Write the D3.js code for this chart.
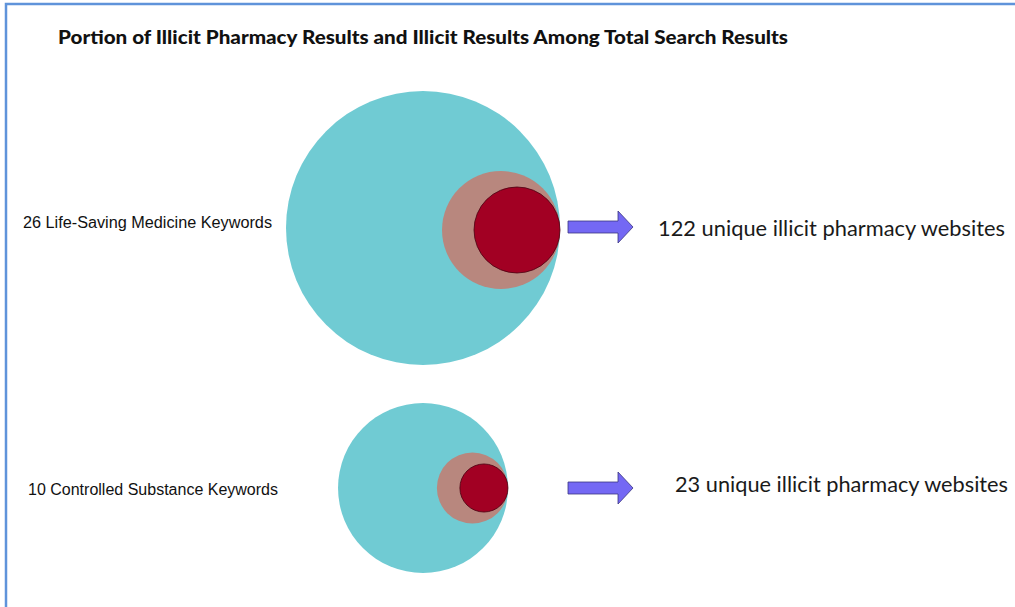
<!DOCTYPE html>
<html>
<head>
<meta charset="utf-8">
<script src="https://cdn.jsdelivr.net/npm/d3@7"></script>
<style>
  html, body { margin: 0; padding: 0; background: #ffffff; }
  svg { display: block; }
</style>
</head>
<body>
<script>
// ---- data ----
const categories = ["26 Life-Saving Medicine Keywords", "10 Controlled Substance Keywords"];
const totalResults = [2600, 1000];
const illicitResults = [482, 175];
const illicitPharmacyResults = [256, 80];
const websiteCounts = [122, 23];
const websiteLabels = websiteCounts.map(d => `${d} unique illicit pharmacy websites`);
const title = "Portion of Illicit Pharmacy Results and Illicit Results Among Total Search Results";

// ---- layout ----
const W = 1015, H = 607;
const centerX = 423;
const labelX = [23, 28];
const labelDy = [0, 7];
const labelLen = [249, 250];
const textX = [658, 675];
const textDy = [8, 4];
const textLen = [347, 333];
const colors = { total: "#70cbd3", illicit: "#b8877e", pharmacy: "#a20023", arrow: "#7468f4" };

const svg = d3.select("body").append("svg").attr("width", W).attr("height", H);

// frame lines (top and left)
svg.append("path")
  .attr("d", `M6,${H} L6,4 L${W},4`)
  .attr("fill", "none").attr("stroke", "#5f93da").attr("stroke-width", 2.5);

// title
svg.append("text")
  .attr("x", 58).attr("y", 44)
  .attr("font-family", "Lato, 'Noto Sans', sans-serif")
  .attr("font-weight", 900)
  .attr("font-size", 18)
  .attr("textLength", 730).attr("lengthAdjust", "spacingAndGlyphs")
  .attr("fill", "#111")
  .text(title);

const r = d3.scaleSqrt().domain([0, d3.max(totalResults)]).range([0, 137]);
const y = d3.scalePoint().domain(categories).range([228, 488]);

const rows = categories.map((c, i) => ({
  cat: c, i,
  total: totalResults[i], illicit: illicitResults[i], pharmacy: illicitPharmacyResults[i],
  label: websiteLabels[i]
}));

const g = svg.selectAll("g.row").data(rows).join("g").attr("class", "row");

// total circle
g.append("circle")
  .attr("cx", centerX)
  .attr("cy", d => y(d.cat))
  .attr("r", d => r(d.total))
  .attr("fill", colors.total);

// illicit circle (tangent to right edge of total)
g.append("circle")
  .attr("cx", d => centerX + r(d.total) - r(d.illicit))
  .attr("cy", d => y(d.cat) + (d.i === 0 ? 2 : 0))
  .attr("r", d => r(d.illicit))
  .attr("fill", colors.illicit);

// illicit pharmacy circle
g.append("circle")
  .attr("cx", d => centerX + r(d.total) - r(d.pharmacy))
  .attr("cy", d => y(d.cat) + (d.i === 0 ? 2 : 0))
  .attr("r", d => r(d.pharmacy))
  .attr("fill", colors.pharmacy)
  .attr("stroke", "#4a0010").attr("stroke-width", 0.8);

// left labels
g.append("text")
  .attr("x", d => labelX[d.i])
  .attr("y", d => y(d.cat) + labelDy[d.i])
  .attr("font-family", "'Liberation Sans', Arial, sans-serif")
  .attr("font-size", 16)
  .attr("textLength", d => labelLen[d.i]).attr("lengthAdjust", "spacingAndGlyphs")
  .attr("fill", "#111")
  .text(d => d.cat);

// arrows
const arrowPath = (x0, cy) => {
  const x1 = x0 + 50, x2 = x0 + 65;
  return `M${x0},${cy - 6} L${x1},${cy - 6} L${x1},${cy - 16} L${x2},${cy} L${x1},${cy + 16} L${x1},${cy + 6} L${x0},${cy + 6} Z`;
};
g.append("path")
  .attr("d", d => arrowPath(568, y(d.cat) + (d.i === 0 ? -1 : 0)))
  .attr("fill", colors.arrow)
  .attr("stroke", "#3b3680").attr("stroke-width", 0.8);

// right texts
g.append("text")
  .attr("x", d => textX[d.i])
  .attr("y", d => y(d.cat) + textDy[d.i])
  .attr("font-family", "Lato, 'Noto Sans', sans-serif")
  .attr("font-size", 22)
  .attr("textLength", d => textLen[d.i]).attr("lengthAdjust", "spacingAndGlyphs")
  .attr("fill", "#1a1a1a")
  .text(d => d.label);
</script>
</body>
</html>
